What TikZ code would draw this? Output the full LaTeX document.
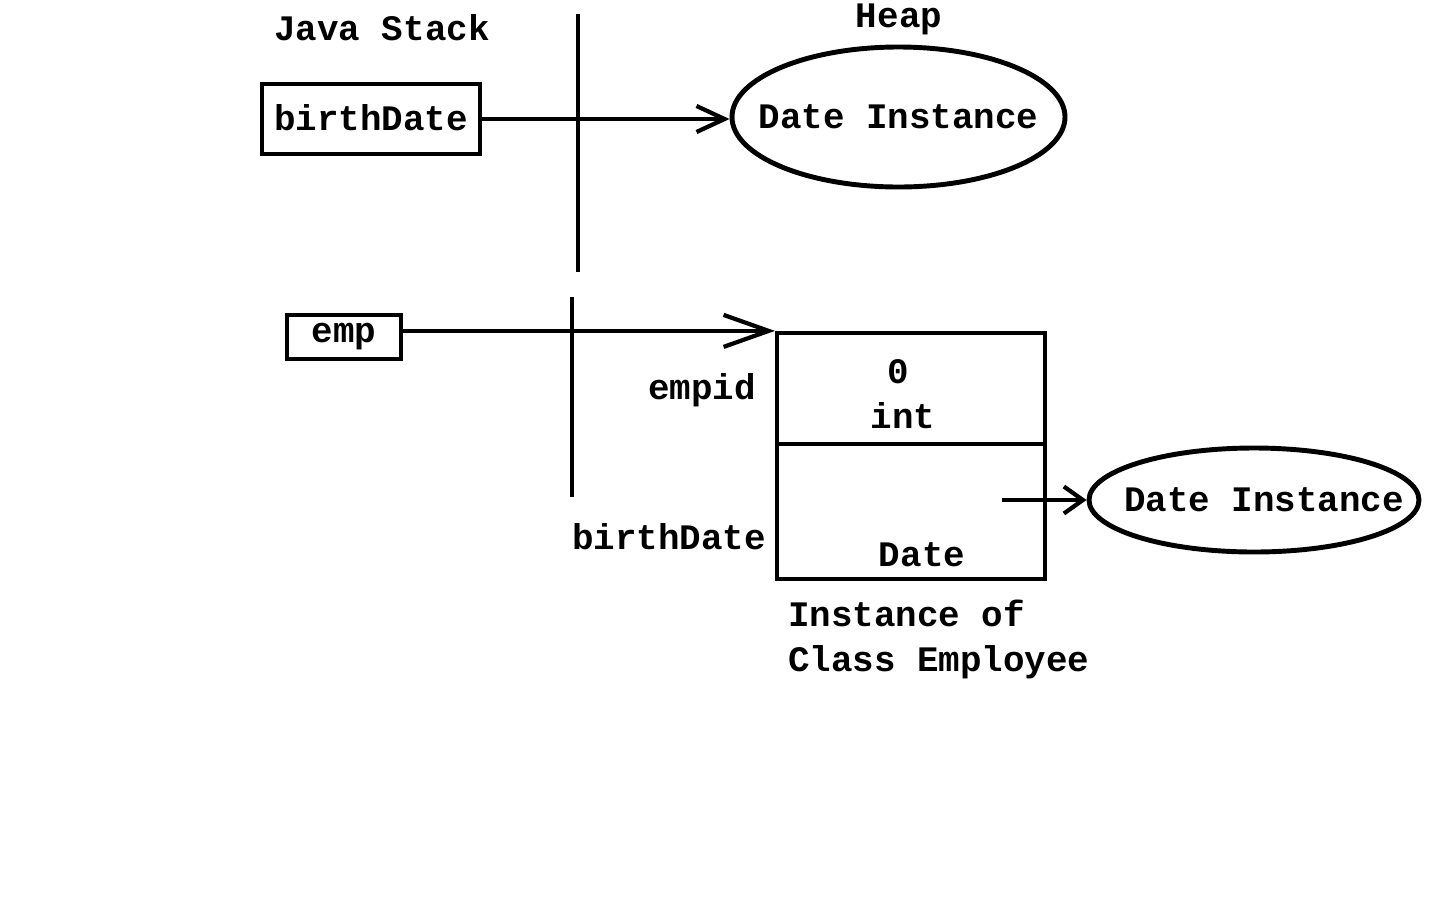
\documentclass[tikz,border=0pt]{standalone}
\usepackage{fontspec}
\newfontfamily\courfont{Liberation Mono}
\usepackage{tikz}
\usetikzlibrary{arrows.meta,positioning,shapes.geometric}

\begin{document}
\begin{tikzpicture}[line width=1.2pt,
    every node/.style={font=\courfont\bfseries\fontsize{10.2}{12.8}\selectfont,inner sep=0pt},
    every label/.style={inner sep=0pt},
    cell/.style={draw,minimum width=2.68cm},
    inst/.style={draw,ellipse,line width=1.4pt,label={center:#1}}]
        \useasboundingbox (0,0) rectangle (14.4,-9);
        % stack / heap split
        \draw (5.78,-0.14)--(5.78,-2.72);
        \draw (5.72,-2.97)--(5.72,-4.97);
        \node (stack) at (3.82,-0.28){Java Stack};
        \node (heap) at (8.99,-0.19){Heap};
        \node[draw,minimum width=2.18cm,minimum height=0.70cm] (bd) at (3.71,-1.19){\raisebox{0.03cm}{birthDate}};
        \node[inst={Date Instance},minimum width=3.33cm,minimum height=1.40cm] (date1) at (8.985,-1.17){};
        \draw[-{Straight Barb[length=0.28cm,width=0.26cm]}] (bd.east)--(bd.east -| date1.west);
        \node[draw,minimum width=1.14cm,minimum height=0.44cm] (emp) at (3.44,-3.37){\raisebox{-0.04cm}{emp}};
        % object of class Employee
        \node[cell,minimum height=1.11cm] (empid) at (9.11,-3.885){};
        \node[cell,minimum height=1.35cm,below=-1.2pt of empid] (bdate) {};
        \node (zero) at (8.98,-3.72){0};
        \node (int) at (9.03,-4.16){int};
        \node (datetype) at (9.22,-5.55){Date};
        \node[anchor=east] (empidlbl) at (7.58,-3.90){empid};
        \node[anchor=east] (bdatelbl) at (7.68,-5.37){birthDate};
        \node[anchor=north west,align=left] (caption) at (7.86,-5.98){Instance of\\Class Employee};
        \draw[-{Straight Barb[length=0.45cm,width=0.32cm]}] (emp.east |- empid.north west)--(empid.north west);
        \node[inst={\hspace{0.2cm}Date Instance},minimum width=3.30cm,minimum height=1.04cm] (date2) at (12.54,-5.00){};
        \coordinate (bdref) at (10.02,-5.00);
        \draw[-{Straight Barb[length=0.19cm,width=0.27cm]}] (bdref)--(date2.west);
      \end{tikzpicture}
\end{document}
